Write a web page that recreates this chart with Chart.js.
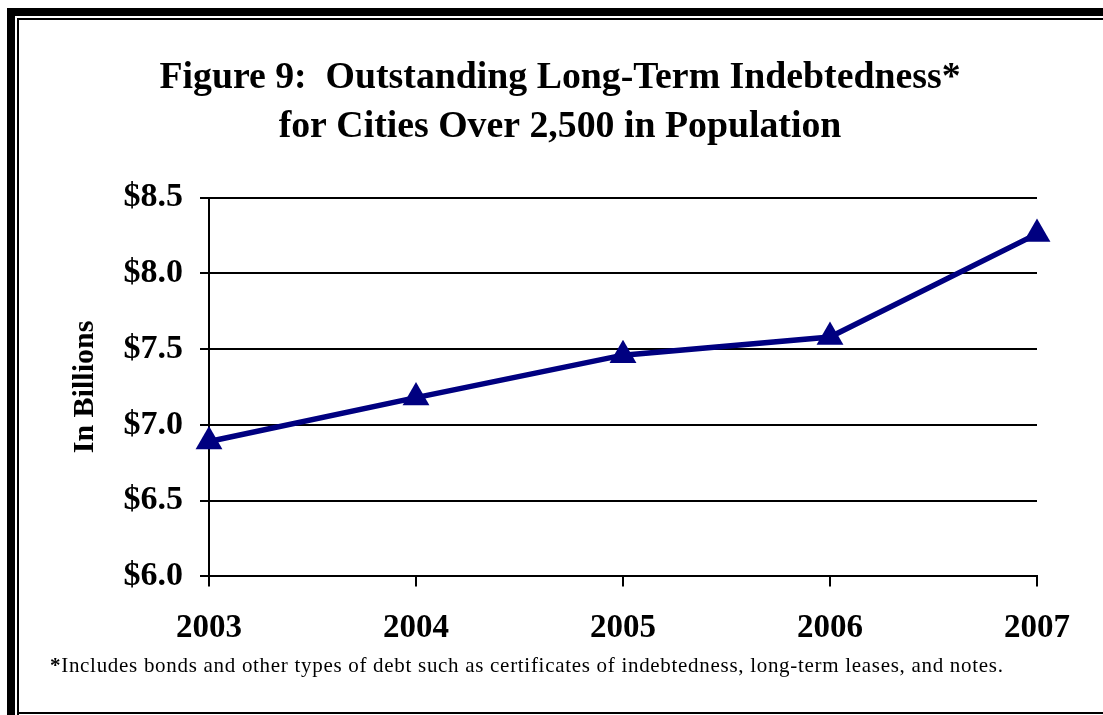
<!DOCTYPE html>
<html>
<head>
<meta charset="utf-8">
<script src="https://cdn.jsdelivr.net/npm/chart.js@4.4.0/dist/chart.umd.min.js"></script>
<style>
  html, body { margin: 0; padding: 0; background: #fff; }
  #wrap { position: relative; width: 1103px; height: 715px; overflow: hidden; }
  canvas { position: absolute; left: 0; top: 0; }
  .b { position: absolute; background: #000; }
  #foot { position: absolute; left: 50px; top: 653px; font-family: "Liberation Serif", "Times New Roman", serif; font-size: 21px; letter-spacing: 0.7px; color: #000; white-space: nowrap; }
</style>
</head>
<body>
<div id="wrap">
  <canvas id="c" width="1103" height="715"></canvas>
  <div class="b" style="left:7px;top:8px;width:1096px;height:8px"></div>
  <div class="b" style="left:7px;top:8px;width:8px;height:707px"></div>
  <div class="b" style="left:17px;top:18px;width:1086px;height:2px"></div>
  <div class="b" style="left:17px;top:18px;width:2px;height:697px"></div>
  <div class="b" style="left:17px;top:712px;width:1086px;height:2px"></div>
  <div id="foot"><b>*</b>Includes bonds and other types of debt such as certificates of indebtedness, long-term leases, and notes.</div>
</div>
<script>
const categories = ["2003", "2004", "2005", "2006", "2007"];
const debtBillions = [6.89, 7.18, 7.46, 7.58, 8.26];
const titleLines = ["Figure 9:  Outstanding Long-Term Indebtedness*", "for Cities Over 2,500 in Population"];
const yAxisTitle = "In Billions";
const yMin = 6.0, yMax = 8.5, yStep = 0.5;

const serif = "'Liberation Serif', 'Times New Roman', serif";

new Chart(document.getElementById('c'), {
  type: 'line',
  data: {
    labels: categories,
    datasets: [{
      data: debtBillions,
      borderColor: '#000080',
      backgroundColor: '#000080',
      borderWidth: 5.5,
      pointStyle: 'triangle',
      pointRadius: 15.5,
      pointHoverRadius: 15.5,
      pointBorderWidth: 0,
      tension: 0,
      fill: false
    }]
  },
  options: {
    responsive: false,
    animation: false,
    events: [],
    layout: { padding: { left: 83, right: 66, top: 54, bottom: 45 } },
    plugins: {
      legend: { display: false },
      tooltip: { enabled: false },
      title: {
        display: true,
        text: titleLines,
        color: '#000',
        font: { family: serif, size: 37.8, weight: 'bold', lineHeight: 1.29 },
        padding: { top: 0, bottom: 46 }
      }
    },
    scales: {
      x: {
        type: 'category',
        offset: false,
        grid: { drawOnChartArea: false, drawTicks: true, tickLength: 10, color: '#000', lineWidth: 2 },
        border: { display: true, color: '#000', width: 2 },
        ticks: { color: '#000', font: { family: serif, size: 33, weight: 'bold' }, padding: 22, maxRotation: 0, autoSkip: false }
      },
      y: {
        min: yMin, max: yMax,
        grid: { color: '#000', lineWidth: 2, drawTicks: true, tickLength: 9 },
        border: { display: true, color: '#000', width: 2 },
        ticks: {
          stepSize: yStep,
          color: '#000',
          font: { family: serif, size: 34, weight: 'bold' },
          padding: 17,
          callback: v => '$' + Number(v).toFixed(1)
        },
        title: {
          display: true,
          text: yAxisTitle,
          color: '#000',
          font: { family: serif, size: 30, weight: 'bold' },
          padding: { top: -16, bottom: 0 }
        },
        afterFit: s => { s.width = 209 - 83; }
      }
    }
  }
});
</script>
</body>
</html>
